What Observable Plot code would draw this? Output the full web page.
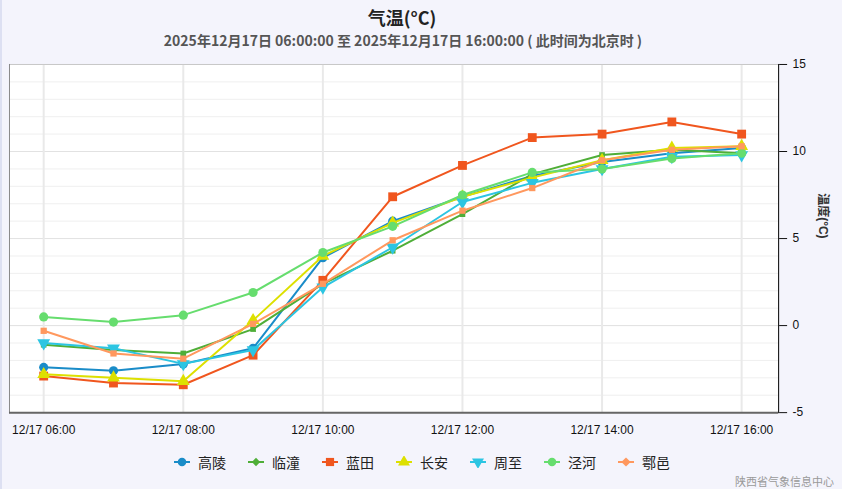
<!DOCTYPE html>
<html>
<head>
<meta charset="utf-8">
<script src="https://cdn.jsdelivr.net/npm/d3@7"></script>
<script src="https://cdn.jsdelivr.net/npm/@observablehq/plot@0.6"></script>
<style>
  html, body { margin: 0; padding: 0; }
  body { width: 842px; height: 489px; background: #f4f4fc; position: relative; overflow: hidden;
         font-family: "Noto Sans CJK SC", "Liberation Sans", sans-serif; box-sizing: border-box; border-left: 2px solid #dde0f2; }
  #title { position: absolute; left: 0; width: 800px; top: 4px; text-align: center; font-size: 18px; font-weight: bold; color: #222; line-height: 26px; }
  #subtitle { position: absolute; left: 0; width: 802px; top: 29px; text-align: center; font-size: 14px; font-weight: bold; color: #555; line-height: 22px; }
  #chart { position: absolute; left: -2px; top: 52px; }
  #legend { position: absolute; left: 0; width: 840px; top: 452px; display: flex; justify-content: center; align-items: center; font-size: 14px; color: #222; }
  .item { display: flex; align-items: center; margin: 0 11px; }
  .item svg { margin-right: 8px; }
  #credit { position: absolute; right: 8px; top: 475px; font-size: 11px; line-height: 13px; color: #999; }
</style>
</head>
<body>
<div id="title">气温(°C)</div>
<div id="subtitle">2025年12月17日 06:00:00 至 2025年12月17日 16:00:00 ( 此时间为北京时 )</div>
<div id="chart"></div>
<div id="legend"></div>
<div id="credit">陕西省气象信息中心</div>
<script>
// ---- data ----
const hours = [6, 7, 8, 9, 10, 11, 12, 13, 14, 15, 16];
const xTicks = [6, 8, 10, 12, 14, 16];
const xTickLabels = ["12/17 06:00", "12/17 08:00", "12/17 10:00", "12/17 12:00", "12/17 14:00", "12/17 16:00"];
const yTicks = [-5, 0, 5, 10, 15];
const stations = ["高陵", "临潼", "蓝田", "长安", "周至", "泾河", "鄠邑"];
const gaoling  = [-2.4, -2.6, -2.2, -1.3, 3.9, 6.0, 7.4, 8.6, 9.4, 9.9, 10.2];
const lintong  = [-1.1, -1.4, -1.6, -0.2, 2.4, 4.3, 6.4, 8.7, 9.8, 10.1, 9.9];
const lantian  = [-2.9, -3.3, -3.4, -1.7, 2.6, 7.4, 9.2, 10.8, 11.0, 11.7, 11.0];
const changan  = [-2.8, -3.0, -3.2, 0.3, 4.0, 5.9, 7.4, 8.5, 9.5, 10.2, 10.3];
const zhouzhi  = [-1.0, -1.3, -2.2, -1.4, 2.2, 4.5, 7.1, 8.2, 9.0, 9.7, 9.8];
const jinghe   = [0.5, 0.2, 0.6, 1.9, 4.2, 5.7, 7.5, 8.8, 9.0, 9.6, 9.9];
const huyi     = [-0.3, -1.6, -1.9, 0.1, 2.4, 4.9, 6.6, 7.9, 9.5, 10.1, 10.3];
const seriesValues = [gaoling, lintong, lantian, changan, zhouzhi, jinghe, huyi];
const colors = ["#1a8cc8", "#4fae38", "#f0561e", "#dde000", "#2cc5e2", "#66dd6e", "#ff985e"];
const symbols = ["circle", "diamond2", "square", "triangle", "triangle", "circle", "diamond2"];
const rotations = [0, 45, 0, 0, 180, 0, 45];
const radii = [4.6, 3.6, 5.0, 4.8, 4.8, 4.6, 4.0];

const rows = [];
stations.forEach((s, i) => hours.forEach((h, j) => rows.push({station: s, hour: h, value: seriesValues[i][j], idx: i})));

const W = 844, H = 390;
const mL = 9, mR = 64, mT = 12, mB = 29;
const marks = [
  Plot.ruleY(d3.range(-5, 16), {stroke: "#efefef", strokeWidth: 1}),
  Plot.ruleY(yTicks, {stroke: "#e2e2e2", strokeWidth: 1}),
  Plot.ruleX(xTicks, {stroke: "#e9e9e9", strokeWidth: 2}),
  Plot.ruleY([15], {stroke: "#c8c8c8", strokeWidth: 1}),
  Plot.frame({anchor: "left", stroke: "#8a8a8a"}),
  Plot.frame({anchor: "right", stroke: "#000", strokeOpacity: 1}),
  Plot.ruleY([-5], {stroke: "#666", strokeWidth: 2}),
  Plot.axisY({anchor: "right", ticks: yTicks, tickSize: 8, tickPadding: 6, label: null,
              fontSize: 12, tickFormat: d => String(d), color: "#111"}),
  Plot.axisX({ticks: xTicks, tickSize: 0, tickPadding: 13, label: null, fontSize: 12,
              tickFormat: d => xTickLabels[xTicks.indexOf(d)], color: "#111"}),
  Plot.text(["温度(°C)"], {frameAnchor: "right", dx: 44, rotate: 90, fontSize: 12, fontWeight: "bold", fill: "#333"})
];
stations.forEach((s, i) => {
  const d = rows.filter(r => r.idx === i);
  marks.push(Plot.line(d, {x: "hour", y: "value", stroke: colors[i], strokeWidth: 2}));
  marks.push(Plot.dot(d, {x: "hour", y: "value", fill: colors[i], stroke: "none", symbol: symbols[i], r: radii[i], rotate: rotations[i]}));
});

const plot = Plot.plot({
  width: W, height: H,
  marginLeft: mL, marginRight: mR, marginTop: mT, marginBottom: mB,
  x: {domain: [5.51, 16.53], axis: null},
  y: {domain: [-5, 15], axis: null},
  style: {background: "transparent", fontFamily: "'Liberation Sans', 'Noto Sans CJK SC', sans-serif", overflow: "visible"},
  marks
});
// white plot background
d3.select(plot).insert("rect", ":first-child")
  .attr("x", mL).attr("y", mT).attr("width", W - mL - mR).attr("height", H - mT - mB).attr("fill", "#fff");
document.getElementById("chart").appendChild(plot);

// legend
const legend = d3.select("#legend");
stations.forEach((s, i) => {
  const it = legend.append("div").attr("class", "item");
  const svg = it.append("svg").attr("width", 16).attr("height", 12);
  svg.append("line").attr("x1", 0).attr("x2", 16).attr("y1", 6).attr("y2", 6).attr("stroke", colors[i]).attr("stroke-width", 2);
  const symMap = {circle: d3.symbolCircle, diamond2: d3.symbolSquare, square: d3.symbolSquare, triangle: d3.symbolTriangle};
  svg.append("path").attr("d", d3.symbol(symMap[symbols[i]], Math.PI * radii[i] * radii[i] * 0.85)())
    .attr("transform", `translate(8,6) rotate(${rotations[i]})`).attr("fill", colors[i]);
  it.append("span").text(s);
});
</script>
</body>
</html>
